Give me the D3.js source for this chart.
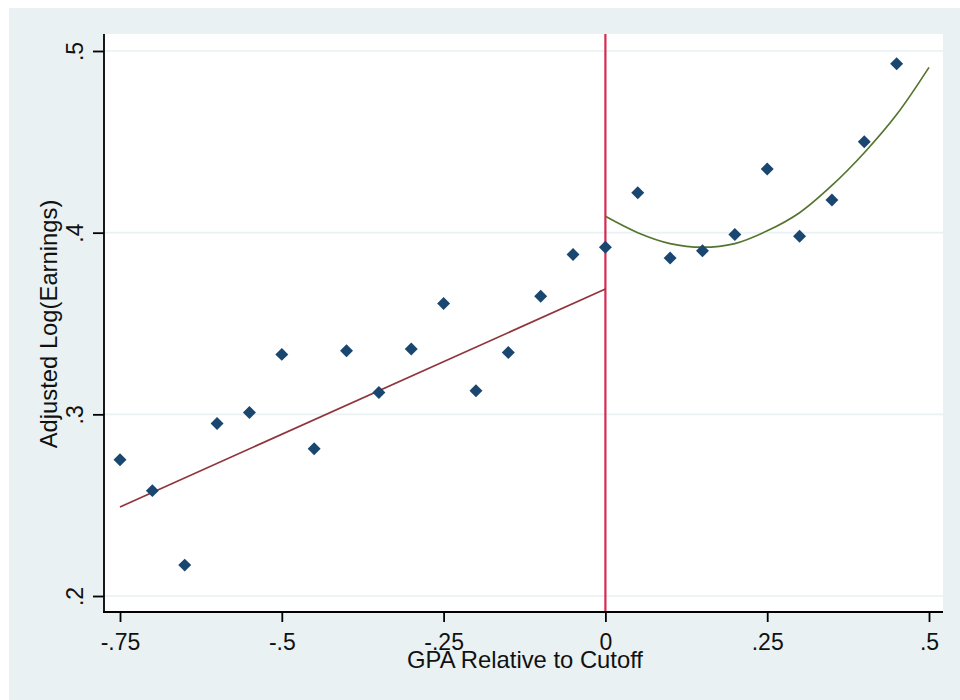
<!DOCTYPE html>
<html>
<head>
<meta charset="utf-8">
<script src="https://cdn.jsdelivr.net/npm/d3@7"></script>
<style>
  html, body { margin: 0; padding: 0; background: #ffffff; }
  svg { display: block; }
  text { font-family: "Liberation Sans", Arial, sans-serif; fill: #111; }
</style>
</head>
<body>
<svg id="chart" width="960" height="700"></svg>
<script>
// Binned means of adjusted log earnings by GPA distance to the cutoff
const binsLeft = [-0.75, -0.70, -0.65, -0.60, -0.55, -0.50, -0.45, -0.40, -0.35, -0.30, -0.25, -0.20, -0.15, -0.10, -0.05];
const meansLeft = [0.275, 0.258, 0.217, 0.295, 0.301, 0.333, 0.281, 0.335, 0.312, 0.336, 0.361, 0.313, 0.334, 0.365, 0.388];
const binsRight = [0.00, 0.05, 0.10, 0.15, 0.20, 0.25, 0.30, 0.35, 0.40, 0.45];
const meansRight = [0.392, 0.422, 0.386, 0.390, 0.399, 0.435, 0.398, 0.418, 0.450, 0.493];

// Linear fit below the cutoff
const linFitX = [-0.75, 0.00];
const linFitY = [0.249, 0.369];

// Quadratic fit above the cutoff
const quadFitX = [0.00, 0.05, 0.10, 0.15, 0.20, 0.25, 0.30, 0.35, 0.40, 0.45, 0.50];
const quadFitY = [0.409, 0.400, 0.394, 0.392, 0.394, 0.401, 0.411, 0.426, 0.444, 0.465, 0.491];

// Axis ticks
const xTicks = [-0.75, -0.5, -0.25, 0, 0.25, 0.5];
const xTickLabels = ["-.75", "-.5", "-.25", "0", ".25", ".5"];
const yTicks = [0.2, 0.3, 0.4, 0.5];
const yTickLabels = [".2", ".3", ".4", ".5"];
const cutoff = 0;

const svg = d3.select("#chart");
const W = 960, H = 700;
const plot = { left: 104, right: 943, top: 34, bottom: 612 };

const bg = "#e9f1f3";
const navy = "#1a476f";
const maroon = "#90353b";
const green = "#55752f";
const cutColor = "#d62a50";

// graph region
svg.append("rect").attr("x", 9).attr("y", 8).attr("width", W - 9).attr("height", H - 8).attr("fill", bg);
// plot region
svg.append("rect")
  .attr("x", plot.left).attr("y", plot.top)
  .attr("width", plot.right - plot.left).attr("height", plot.bottom - plot.top)
  .attr("fill", "#ffffff");

const x = d3.scaleLinear().domain([-0.75, 0.5]).range([120, 929]);
const y = d3.scaleLinear().domain([0.2, 0.5]).range([596, 51]);

// horizontal grid lines
svg.append("g").selectAll("line").data(yTicks).join("line")
  .attr("x1", plot.left).attr("x2", plot.right)
  .attr("y1", d => y(d)).attr("y2", d => y(d))
  .attr("stroke", bg).attr("stroke-width", 1.6);

// vertical line at the cutoff
svg.append("line")
  .attr("x1", x(cutoff)).attr("x2", x(cutoff))
  .attr("y1", plot.top).attr("y2", plot.bottom)
  .attr("stroke", cutColor).attr("stroke-width", 2.2);

// fitted lines
const line = d3.line().x(d => x(d[0])).y(d => y(d[1]));
svg.append("path")
  .datum(linFitX.map((v, i) => [v, linFitY[i]]))
  .attr("d", line)
  .attr("fill", "none").attr("stroke", maroon).attr("stroke-width", 1.7);

svg.append("path")
  .datum(quadFitX.map((v, i) => [v, quadFitY[i]]))
  .attr("d", line.curve(d3.curveCatmullRom))
  .attr("fill", "none").attr("stroke", green).attr("stroke-width", 1.7);

// bin means as diamonds
const pts = binsLeft.map((v, i) => [v, meansLeft[i]]).concat(binsRight.map((v, i) => [v, meansRight[i]]));
const diamond = d3.symbol().type(d3.symbolSquare).size(84);
svg.append("g").selectAll("path").data(pts).join("path")
  .attr("d", diamond)
  .attr("transform", d => `translate(${x(d[0])},${y(d[1])}) rotate(45)`)
  .attr("fill", navy);

// x axis
const xAxis = svg.append("g").attr("transform", `translate(0,${plot.bottom})`)
  .call(d3.axisBottom(x).tickValues(xTicks).tickSize(10).tickSizeOuter(0)
    .tickFormat((d, i) => xTickLabels[i]));
xAxis.select(".domain").remove();
xAxis.selectAll(".tick line").attr("stroke", "#000").attr("stroke-width", 1.8);
xAxis.selectAll(".tick text").attr("y", 38).attr("dy", null)
  .style("font-size", "23px").attr("fill", "#111");
svg.append("line").attr("x1", plot.left - 1).attr("x2", plot.right)
  .attr("y1", plot.bottom).attr("y2", plot.bottom)
  .attr("stroke", "#000").attr("stroke-width", 1.8);

// y axis
const yAxis = svg.append("g").attr("transform", `translate(${plot.left},0)`)
  .call(d3.axisLeft(y).tickValues(yTicks).tickSize(11).tickSizeOuter(0)
    .tickFormat((d, i) => yTickLabels[i]));
yAxis.select(".domain").remove();
yAxis.selectAll(".tick line").attr("stroke", "#000").attr("stroke-width", 1.8);
yAxis.selectAll(".tick text")
  .attr("x", 0).attr("y", -21).attr("dy", null)
  .attr("transform", "rotate(-90)")
  .attr("text-anchor", "middle")
  .style("font-size", "23px").attr("fill", "#111");
svg.append("line").attr("x1", plot.left).attr("x2", plot.left)
  .attr("y1", plot.top).attr("y2", plot.bottom + 1)
  .attr("stroke", "#000").attr("stroke-width", 1.8);

// axis titles
svg.append("text")
  .attr("x", 525).attr("y", 668)
  .attr("text-anchor", "middle")
  .style("font-size", "23.8px")
  .text("GPA Relative to Cutoff");

svg.append("text")
  .attr("transform", "translate(57,324) rotate(-90)")
  .attr("text-anchor", "middle")
  .style("font-size", "23.8px")
  .text("Adjusted Log(Earnings)");
</script>
</body>
</html>
